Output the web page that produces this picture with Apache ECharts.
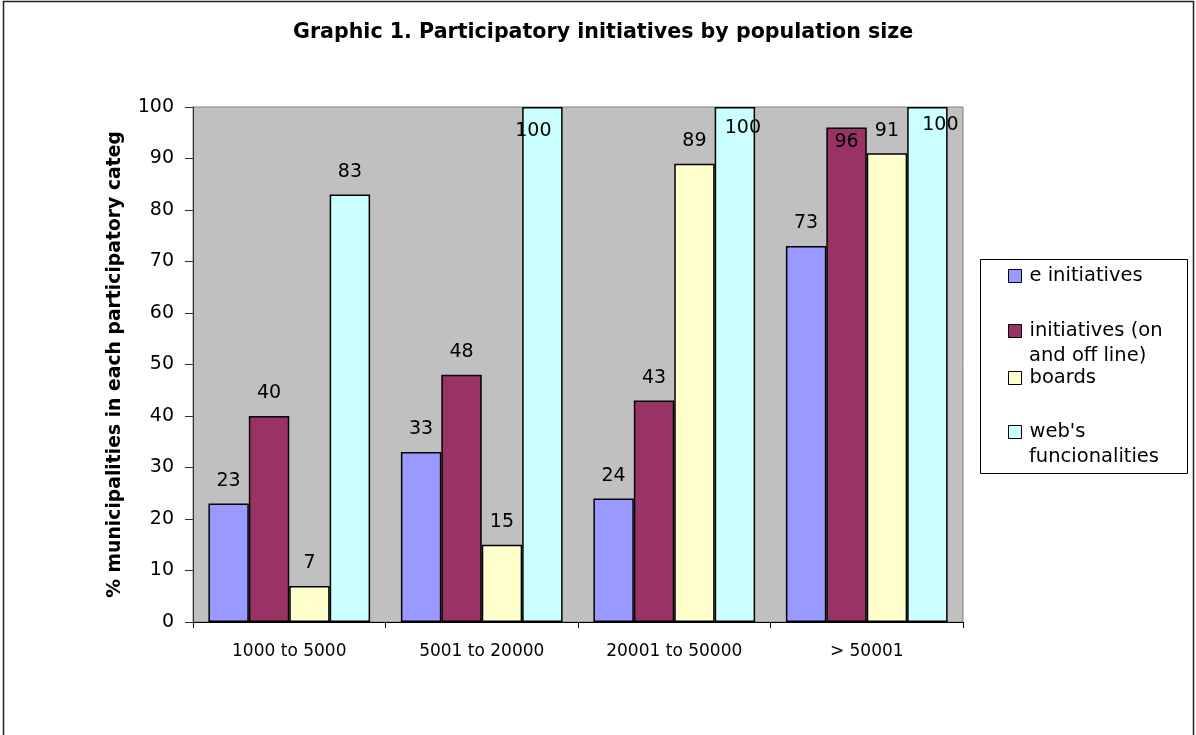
<!DOCTYPE html>
<html>
<head>
<meta charset="utf-8">
<script src="https://cdn.jsdelivr.net/npm/echarts@6/dist/echarts.min.js"></script>
<style>
html,body{margin:0;padding:0;background:#fff;}
#chart{width:1196px;height:735px;}
</style>
</head>
<body>
<div id="chart"></div>
<script>
// ---- data ----
const titleText = 'Graphic 1. Participatory initiatives by population size';
const yAxisTitle = '% municipalities in each participatory categ';
const categories = ['1000 to 5000', '5001 to 20000', '20001 to 50000', '> 50001'];
const seriesNames = ['e initiatives', 'initiatives (on and off line)', 'boards', "web's funcionalities"];
const eInitiatives = [23, 33, 24, 73];
const initiativesOnOff = [40, 48, 43, 96];
const boards = [7, 15, 89, 91];
const websFuncionalities = [83, 100, 100, 100];
const yMin = 0, yMax = 100, yStep = 10;

const seriesValues = [eInitiatives, initiativesOnOff, boards, websFuncionalities];
const colors = ['#9999FF', '#993366', '#FFFFCC', '#CCFFFF'];
const FONT = '"DejaVu Sans", Verdana, sans-serif';

// label placement tweaks (series index - category index)
const labelTweaks = {
  '1-3': { position: 'insideTop', distance: 5 },
  '3-1': { position: 'insideTop', distance: 15, offset: [-9, 0] },
  '3-2': { position: 'insideTop', distance: 12, offset: [8, 0] },
  '3-3': { position: 'insideTop', distance: 9, offset: [13, 0] }
};

const series = seriesValues.map((vals, si) => ({
  name: seriesNames[si],
  type: 'bar',
  barGap: '0%',
  barCategoryGap: '16%',
  itemStyle: { color: colors[si], borderColor: '#000', borderWidth: 1.5 },
  label: {
    show: true, position: 'top', distance: 13,
    color: '#000', fontSize: 19, fontFamily: FONT
  },
  data: vals.map((v, ci) => {
    const t = labelTweaks[si + '-' + ci];
    return t ? { value: v, label: t } : v;
  })
}));

// legend: first line in legend, continuation lines as text
const legendTops = [263.5, 318.5, 365.5, 419.5];
const firstLine = { 'initiatives (on and off line)': 'initiatives (on', "web's funcionalities": "web's" };
const legends = seriesNames.map((n, i) => ({
  data: [n],
  left: 1008, top: legendTops[i], padding: 0,
  orient: 'vertical', selectedMode: false,
  itemWidth: 13, itemHeight: 13, icon: 'rect',
  itemStyle: { borderColor: '#000', borderWidth: 1 },
  textStyle: { fontSize: 19.5, fontFamily: FONT, color: '#000', lineHeight: 25, padding: [0, 0, 0, 3] },
  formatter: name => firstLine[name] || name
}));

const chart = echarts.init(document.getElementById('chart'));
chart.setOption({
  animation: false,
  backgroundColor: '#fff',
  title: {
    text: titleText, left: 293, top: 22, padding: 0,
    textStyle: { fontSize: 20.6, fontWeight: 'bold', fontFamily: FONT, color: '#000' }
  },
  legend: legends,
  grid: {
    left: 193, right: 233, top: 107, bottom: 113,
    show: true, backgroundColor: '#C0C0C0', borderColor: '#808080', borderWidth: 1
  },
  xAxis: {
    type: 'category', data: categories, boundaryGap: true,
    axisLine: { lineStyle: { color: '#000', width: 1 } },
    axisTick: { show: true, length: 6, lineStyle: { color: '#000' } },
    axisLabel: { fontSize: 17, fontFamily: FONT, color: '#000', margin: 21 }
  },
  yAxis: {
    type: 'value', min: yMin, max: yMax, interval: yStep,
    name: yAxisTitle, nameLocation: 'middle', nameRotate: 90, nameGap: 68,
    nameTextStyle: { fontSize: 18.8, fontWeight: 'bold', fontFamily: FONT, color: '#000' },
    axisLine: { show: true, lineStyle: { color: '#333', width: 1 } },
    axisTick: { show: true, length: 8, lineStyle: { color: '#333' } },
    axisLabel: { fontSize: 19, fontFamily: FONT, color: '#000', margin: 19 },
    splitLine: { show: false }
  },
  series: series,
  graphic: [
    { type: 'rect', shape: { x: 3.5, y: 1.5, width: 1190, height: 780 },
      style: { fill: 'none', stroke: '#222', lineWidth: 1.5 }, silent: true },
    { type: 'rect', shape: { x: 980.5, y: 259.5, width: 207, height: 214 },
      style: { fill: 'none', stroke: '#000', lineWidth: 1 }, silent: true },
    { type: 'text', x: 1029, y: 356,
      style: { text: 'and off line)', font: '19.5px ' + FONT, fill: '#000', textVerticalAlign: 'middle', verticalAlign: 'middle' } },
    { type: 'text', x: 1029, y: 457,
      style: { text: 'funcionalities', font: '19.5px ' + FONT, fill: '#000', textVerticalAlign: 'middle', verticalAlign: 'middle' } }
  ]
});
</script>
</body>
</html>
